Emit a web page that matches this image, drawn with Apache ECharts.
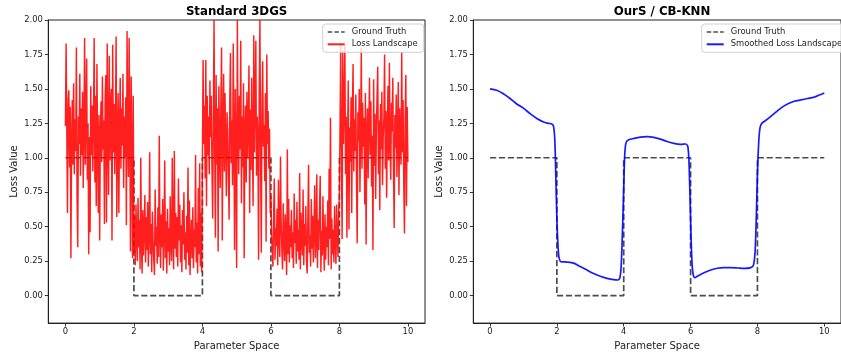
<!DOCTYPE html>
<html><head><meta charset="utf-8">
<script src="https://cdn.jsdelivr.net/npm/echarts@6/dist/echarts.min.js"></script>
<style>html,body{margin:0;padding:0;background:#fff}#c{width:841px;height:356px}</style>
</head><body><div id="c"></div><script>
// ---- data ----
const xTicks = [0, 2, 4, 6, 8, 10];
const yTicks = [0, 0.25, 0.5, 0.75, 1.0, 1.25, 1.5, 1.75, 2.0];

const gtX = [0, 2, 2, 4, 4, 6, 6, 8, 8, 10];
const gtY = [1, 1, 0, 0, 1, 1, 0, 0, 1, 1];

const lossStep = 0.02; // sampling grid of the noisy landscape (x = index * step)
const lossSeg1 = [1.23,1.83,1.21,0.60,1.42,1.49,0.93,1.37,0.27,1.12,
1.42,0.95,1.54,0.88,1.28,1.05,1.80,0.72,0.35,1.30,
1.10,1.61,0.87,1.36,1.02,1.48,0.78,1.20,1.87,0.95,
1.33,1.72,0.84,1.25,0.30,1.15,0.46,1.52,1.02,1.38,
0.90,1.29,1.87,0.82,1.45,0.65,1.68,1.08,0.60,1.31,
0.40,1.18,1.41,0.97,1.59,1.06,1.27,0.52,1.44,1.60,
0.53,1.83,1.12,0.73,1.74,0.98,1.35,1.50,0.40,1.82,
1.04,1.39,0.88,1.26,1.88,0.57,1.14,1.47,0.60,1.22,
1.58,0.92,1.36,1.09,1.61,0.78,1.30,1.00,1.44,0.51,
1.92,1.17,0.86,1.87,1.25,0.32,1.59,1.06,0.27,1.45];
const lossSeg2 = [0.31,0.58,0.22,0.66,0.42,0.25,0.71,0.35,0.55,0.19,
1.00,0.38,0.16,0.62,0.29,0.48,0.73,0.24,0.57,0.33,
0.68,0.21,0.45,1.04,0.30,0.52,0.17,0.61,0.40,0.26,
0.15,0.77,0.36,0.50,0.23,0.64,0.28,1.16,0.44,0.20,
0.59,0.35,0.70,0.18,0.47,0.98,0.27,0.54,0.16,0.63,
0.32,0.49,0.22,0.72,0.38,0.25,1.00,0.43,0.19,1.05,
0.34,0.60,0.28,0.57,0.21,0.85,0.40,0.66,0.24,0.51,
0.17,0.62,0.37,0.75,0.26,0.46,0.19,0.58,0.31,0.93,
0.22,0.69,0.15,0.41,0.55,0.27,0.64,0.20,0.48,0.35,
1.02,0.24,0.53,0.16,0.78,0.30,0.96,0.21,0.60,0.17];
const lossSeg3 = [0.98,1.71,1.10,1.38,0.85,1.71,0.65,1.45,1.02,1.30,
0.88,1.56,1.15,1.45,0.92,0.56,1.28,2.00,1.05,0.42,
1.60,0.95,1.36,0.32,1.52,1.12,0.78,1.40,1.80,0.40,
1.25,1.61,0.90,1.47,1.08,0.72,1.33,1.18,0.85,0.55,
1.42,1.76,0.96,1.27,0.80,1.83,1.14,0.33,1.50,1.02,
0.20,2.00,1.22,0.88,1.45,1.06,1.85,0.67,1.30,0.93,
1.54,0.27,1.19,1.38,0.82,1.48,1.00,1.26,1.67,0.60,
1.35,0.91,1.58,1.12,0.65,1.89,1.04,1.43,1.85,0.87,
1.30,1.16,0.26,1.50,2.00,0.95,0.31,1.40,1.70,1.08,
1.24,0.83,1.47,0.39,1.75,1.10,1.34,0.92,1.21,0.60];
const lossSeg4 = [0.72,0.45,0.31,0.21,0.58,0.85,0.26,0.49,0.36,0.63,
0.22,0.84,0.40,0.28,1.01,0.53,0.33,0.19,0.67,0.42,
0.25,0.59,0.37,0.15,1.06,0.30,0.70,0.24,0.51,0.35,
0.62,0.27,0.46,0.20,0.74,0.38,0.55,0.23,0.68,0.32,
0.48,0.26,0.89,0.19,0.60,0.41,0.29,0.77,0.22,0.52,
0.36,0.65,0.25,0.16,0.57,0.95,0.31,0.44,0.21,0.70,
0.34,0.58,0.24,0.49,0.80,0.27,0.40,0.88,0.20,0.55,
0.33,0.63,0.87,0.17,0.47,0.29,0.72,0.38,0.18,0.59,
0.26,0.50,0.35,0.69,0.22,0.92,0.41,1.29,0.19,0.56,
0.30,0.48,0.24,0.65,0.37,0.23,0.66,0.43,0.28,0.61];
const lossSeg5 = [0.72,1.25,1.83,0.95,0.41,1.77,1.10,1.38,1.82,0.88,
1.30,0.42,1.15,1.56,0.48,1.22,0.97,1.44,0.60,1.35,
1.68,0.90,1.28,1.05,1.46,0.82,0.38,1.33,1.12,1.50,
0.75,1.20,1.80,0.92,1.40,1.08,1.29,0.66,1.47,0.37,
1.18,1.36,0.85,1.25,1.58,1.02,1.41,0.79,1.16,0.33,
1.57,0.94,1.32,0.70,1.21,1.45,1.66,0.88,1.27,0.62,
1.39,1.06,1.48,0.80,1.15,1.30,1.75,0.92,1.34,0.71,
1.24,1.52,0.98,1.69,1.11,0.84,1.40,1.19,1.58,0.90,
0.49,1.31,1.07,1.46,0.86,1.22,1.55,0.73,1.36,1.13,
0.95,1.77,1.04,1.42,0.81,0.45,1.28,1.60,0.65,1.37,
0.97];

const smoothX = [0,0.2,0.4,0.6,0.8,1.0,1.2,1.4,1.6,1.75,1.85,1.9,1.94,1.97,2.0,2.03,2.06,2.1,2.15,2.3,2.5,2.7,2.9,3.1,3.3,3.5,3.7,3.82,3.88,3.92,3.96,4.0,4.03,4.07,4.15,4.3,4.5,4.7,4.9,5.1,5.3,5.5,5.7,5.85,5.92,5.96,6.0,6.04,6.08,6.13,6.2,6.4,6.6,6.8,7.0,7.2,7.4,7.6,7.8,7.88,7.93,7.97,8.0,8.04,8.08,8.13,8.3,8.5,8.7,8.9,9.1,9.3,9.5,9.7,9.85,10.0];
const smoothY = [1.50,1.49,1.465,1.43,1.39,1.36,1.32,1.285,1.26,1.25,1.245,1.23,1.12,0.85,0.56,0.38,0.28,0.25,0.245,0.243,0.235,0.21,0.185,0.16,0.14,0.125,0.115,0.113,0.125,0.2,0.45,0.78,1.02,1.11,1.13,1.14,1.15,1.153,1.148,1.135,1.118,1.104,1.097,1.10,1.08,0.92,0.55,0.25,0.15,0.13,0.14,0.165,0.185,0.198,0.202,0.202,0.2,0.197,0.203,0.22,0.32,0.6,0.88,1.12,1.22,1.25,1.28,1.32,1.36,1.39,1.41,1.42,1.43,1.44,1.455,1.47];

// ---- build ----
const lossY = [].concat(lossSeg1, lossSeg2, lossSeg3, lossSeg4, lossSeg5);
const lossData = lossY.map((v, i) => [+(i * lossStep).toFixed(4), v]);
const gtData = gtX.map((x, i) => [x, gtY[i]]);
const smoothData = smoothX.map((x, i) => [x, smoothY[i]]);

const FONT = 'DejaVu Sans';
const TXT = '#222';

function mkX(gi) {
  return {
    type: 'value', gridIndex: gi, min: -0.5, max: 10.5,
    name: 'Parameter Space', nameLocation: 'middle', nameGap: 16,
    nameTextStyle: { fontFamily: FONT, fontSize: 10, color: TXT },
    axisLine: { show: true, onZero: false, lineStyle: { color: '#222', width: 1 } },
    splitLine: { show: false },
    axisTick: { show: true, inside: false, length: 3.5, customValues: xTicks, lineStyle: { color: '#222', width: 0.9 } },
    axisLabel: { customValues: xTicks, margin: 5, fontFamily: FONT, fontSize: 8.4, color: TXT, formatter: v => String(v) }
  };
}
function mkY(gi) {
  return {
    type: 'value', gridIndex: gi, min: -0.2, max: 2.0,
    name: 'Loss Value', nameLocation: 'middle', nameGap: 29, nameRotate: 90,
    nameTextStyle: { fontFamily: FONT, fontSize: 10, color: TXT },
    axisLine: { show: true, onZero: false, lineStyle: { color: '#222', width: 1 } },
    splitLine: { show: false },
    axisTick: { show: true, inside: false, length: 3.5, customValues: yTicks, lineStyle: { color: '#222', width: 0.9 } },
    axisLabel: { customValues: yTicks, margin: 5.5, fontFamily: FONT, fontSize: 8.4, color: TXT, formatter: v => v.toFixed(2) }
  };
}
const gtLine = { color: '#000', opacity: 0.7, width: 1.7, type: [6.2, 2.7] };
function mkLegend(left, names) {
  return {
    orient: 'vertical', left: left, top: 24, padding: [3, 6, 3, 4],
    itemWidth: 17, itemHeight: 10, itemGap: 2.3, selectedMode: false,
    backgroundColor: 'rgba(255,255,255,0.8)', borderColor: '#d0d0d0', borderWidth: 1, borderRadius: 3,
    itemStyle: { opacity: 0 },
    textStyle: { fontFamily: FONT, fontSize: 8.4, color: TXT, lineHeight: 10, padding: [0, 0, 0, 2] },
    data: names.map(n => n === 'Ground Truth'
      ? { name: n, lineStyle: { type: [4.5, 2.2], width: 1.7, color: '#000', opacity: 0.7 } }
      : { name: n })
  };
}

const option = {
  animation: false,
  backgroundColor: '#fff',
  title: [
    { text: 'Standard 3DGS', left: 236.6, top: 6, textAlign: 'center', padding: 0,
      textStyle: { fontFamily: FONT, fontSize: 11.8, fontWeight: 'bold', color: '#000' } },
    { text: 'OurS / CB-KNN', left: 662, top: 6, textAlign: 'center', padding: 0,
      textStyle: { fontFamily: FONT, fontSize: 11.8, fontWeight: 'bold', color: '#000' } }
  ],
  grid: [
    { left: 48.3, top: 20, width: 376.7, height: 306.7, show: true, borderColor: '#222', borderWidth: 1, backgroundColor: 'transparent' },
    { left: 473.3, top: 20, width: 377, height: 306.7, show: true, borderColor: '#222', borderWidth: 1, backgroundColor: 'transparent' }
  ],
  xAxis: [mkX(0), mkX(1)],
  yAxis: [mkY(0), mkY(1)],
  legend: [mkLegend(322.7, ['Ground Truth', 'Loss Landscape']), mkLegend(701.7, ['Ground Truth', 'Smoothed Loss Landscape'])],
  series: [
    { name: 'Ground Truth', type: 'line', xAxisIndex: 0, yAxisIndex: 0, data: gtData, symbol: 'none', z: 2,
      lineStyle: gtLine, itemStyle: { color: '#000' } },
    { name: 'Loss Landscape', type: 'line', xAxisIndex: 0, yAxisIndex: 0, data: lossData, symbol: 'none', z: 3,
      lineStyle: { color: '#ff0000', width: 1.45, opacity: 0.88 }, itemStyle: { color: '#ff0000' } },
    { name: 'Ground Truth', type: 'line', xAxisIndex: 1, yAxisIndex: 1, data: gtData, symbol: 'none', z: 2,
      lineStyle: gtLine, itemStyle: { color: '#000' } },
    { name: 'Smoothed Loss Landscape', type: 'line', xAxisIndex: 1, yAxisIndex: 1, data: smoothData, symbol: 'none', z: 3,
      smooth: 0.3, lineStyle: { color: '#0000ff', width: 1.7, opacity: 0.9 }, itemStyle: { color: '#0000ff' } }
  ]
};
const chart = echarts.init(document.getElementById('c'), null, { renderer: 'canvas' });
chart.setOption(option);
</script></body></html>
